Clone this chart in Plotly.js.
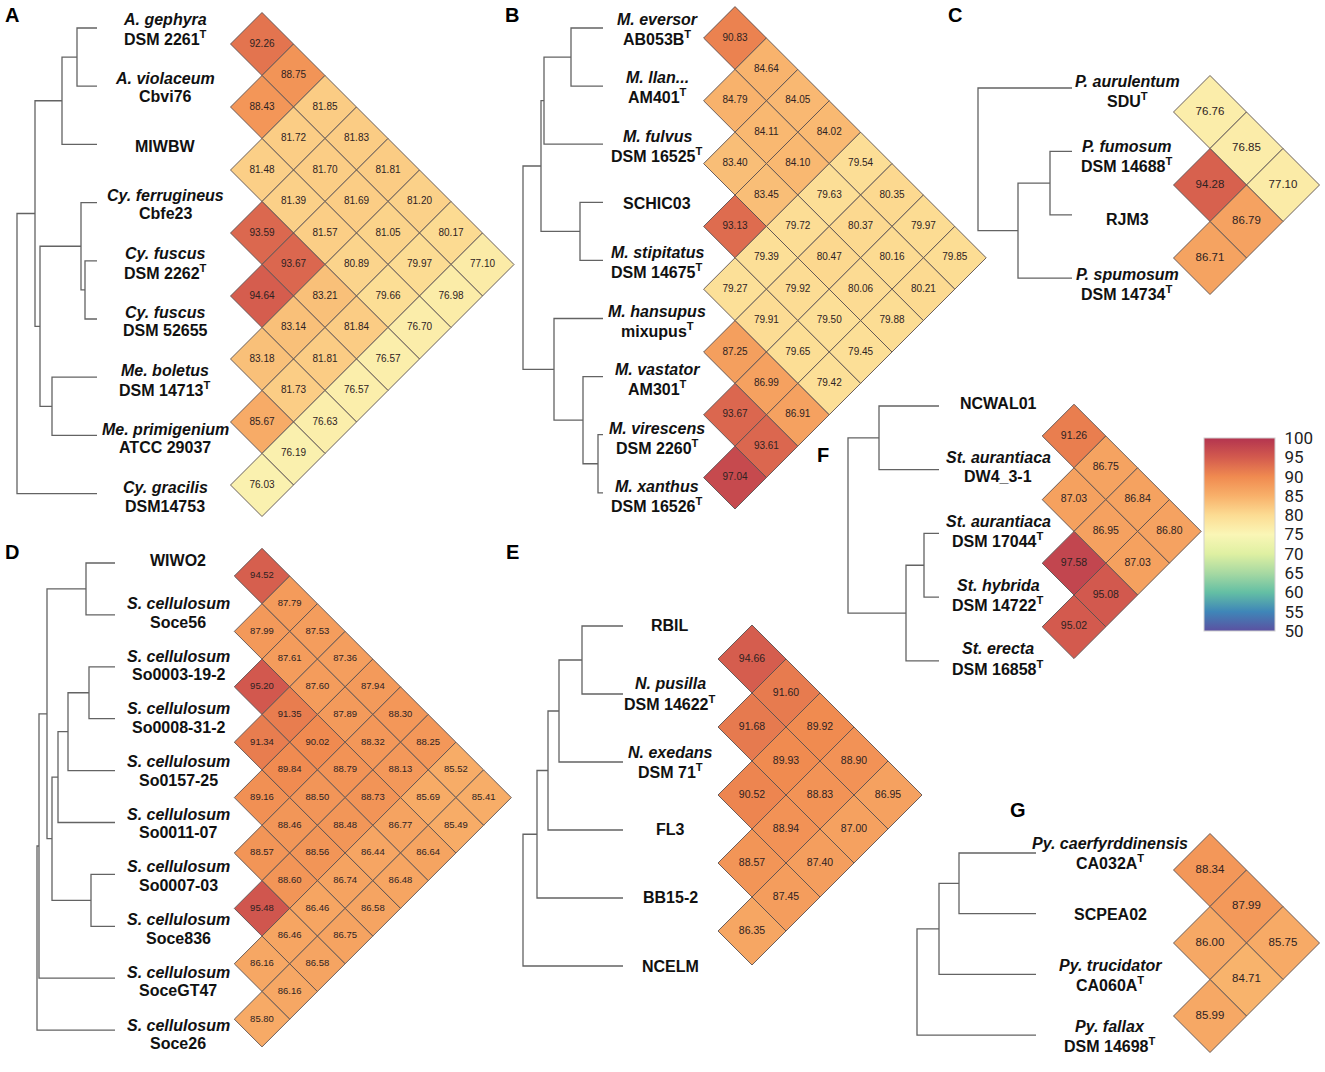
<!DOCTYPE html>
<html>
<head>
<meta charset="utf-8">
<script src="https://cdn.plot.ly/plotly-3.0.1.min.js"></script>
<style>html,body{margin:0;padding:0;background:#fff;}#chart{width:1325px;height:1072px;}</style>
</head>
<body>
<div id="chart"></div>
<script>
// ---------------- DATA ----------------
// Taxon labels (line 1, optional line 2)
const namesA = [["<i>A. gephyra</i>","DSM 2261<sup>T</sup>"],["<i>A. violaceum</i>","Cbvi76"],["MIWBW"],["<i>Cy. ferrugineus</i>","Cbfe23"],["<i>Cy. fuscus</i>","DSM 2262<sup>T</sup>"],["<i>Cy. fuscus</i>","DSM 52655"],["<i>Me. boletus</i>","DSM 14713<sup>T</sup>"],["<i>Me. primigenium</i>","ATCC 29037"],["<i>Cy. gracilis</i>","DSM14753"]];
const namesB = [["<i>M. eversor</i>","AB053B<sup>T</sup>"],["<i>M. llan...</i>","AM401<sup>T</sup>"],["<i>M. fulvus</i>","DSM 16525<sup>T</sup>"],["SCHIC03"],["<i>M. stipitatus</i>","DSM 14675<sup>T</sup>"],["<i>M. hansupus</i>","mixupus<sup>T</sup>"],["<i>M. vastator</i>","AM301<sup>T</sup>"],["<i>M. virescens</i>","DSM 2260<sup>T</sup>"],["<i>M. xanthus</i>","DSM 16526<sup>T</sup>"]];
const namesC = [["<i>P. aurulentum</i>","SDU<sup>T</sup>"],["<i>P. fumosum</i>","DSM 14688<sup>T</sup>"],["RJM3"],["<i>P. spumosum</i>","DSM 14734<sup>T</sup>"]];
const namesD = [["WIWO2"],["<i>S. cellulosum</i>","Soce56"],["<i>S. cellulosum</i>","So0003-19-2"],["<i>S. cellulosum</i>","So0008-31-2"],["<i>S. cellulosum</i>","So0157-25"],["<i>S. cellulosum</i>","So0011-07"],["<i>S. cellulosum</i>","So0007-03"],["<i>S. cellulosum</i>","Soce836"],["<i>S. cellulosum</i>","SoceGT47"],["<i>S. cellulosum</i>","Soce26"]];
const namesE = [["RBIL"],["<i>N. pusilla</i>","DSM 14622<sup>T</sup>"],["<i>N. exedans</i>","DSM 71<sup>T</sup>"],["FL3"],["BB15-2"],["NCELM"]];
const namesF = [["NCWAL01"],["<i>St. aurantiaca</i>","DW4_3-1"],["<i>St. aurantiaca</i>","DSM 17044<sup>T</sup>"],["<i>St. hybrida</i>","DSM 14722<sup>T</sup>"],["<i>St. erecta</i>","DSM 16858<sup>T</sup>"]];
const namesG = [["<i>Py. caerfyrddinensis</i>","CA032A<sup>T</sup>"],["SCPEA02"],["<i>Py. trucidator</i>","CA060A<sup>T</sup>"],["<i>Py. fallax</i>","DSM 14698<sup>T</sup>"]];

// Upper-triangle ANI values: row i lists pairs (i,i+1), (i,i+2), ...
const aniA = [[92.26,88.75,81.85,81.83,81.81,81.20,80.17,77.10],[88.43,81.72,81.70,81.69,81.05,79.97,76.98],[81.48,81.39,81.57,80.89,79.66,76.70],[93.59,93.67,83.21,81.84,76.57],[94.64,83.14,81.81,76.57],[83.18,81.73,76.63],[85.67,76.19],[76.03]];
const aniB = [[90.83,84.64,84.05,84.02,79.54,80.35,79.97,79.85],[84.79,84.11,84.10,79.63,80.37,80.16,80.21],[83.40,83.45,79.72,80.47,80.06,79.88],[93.13,79.39,79.92,79.50,79.45],[79.27,79.91,79.65,79.42],[87.25,86.99,86.91],[93.67,93.61],[97.04]];
const aniC = [[76.76,76.85,77.10],[94.28,86.79],[86.71]];
const aniD = [[94.52,87.79,87.53,87.36,87.94,88.30,88.25,85.52,85.41],[87.99,87.61,87.60,87.89,88.32,88.13,85.69,85.49],[95.20,91.35,90.02,88.79,88.73,86.77,86.64],[91.34,89.84,88.50,88.48,86.44,86.48],[89.16,88.46,88.56,86.74,86.58],[88.57,88.60,86.46,86.75],[95.48,86.46,86.58],[86.16,86.16],[85.80]];
const aniE = [[94.66,91.60,89.92,88.90,86.95],[91.68,89.93,88.83,87.00],[90.52,88.94,87.40],[88.57,87.45],[86.35]];
const aniF = [[91.26,86.75,86.84,86.80],[87.03,86.95,87.03],[97.58,95.08],[95.02]];
const aniG = [[88.34,87.99,85.75],[86.00,84.71],[85.99]];

// Dendrogram linkage: [childA, childB, height]; ids >= n are earlier merges
const treeA = [[0,1,20],[9,2,35],[4,5,12],[3,11,16],[6,7,45],[12,13,57],[10,14,62],[15,8,80]];
const treeB = [[0,1,32],[9,2,59],[3,4,23],[10,11,62],[7,8,5],[6,13,20],[5,14,49],[12,15,80]];
const treeC = [[1,2,22],[4,3,54],[0,5,94]];
const treeD = [[0,1,29],[2,3,26],[11,4,47],[12,5,57],[6,7,24],[13,14,63],[10,15,68],[16,8,76],[17,9,78]];
const treeE = [[0,1,41],[6,2,64],[7,3,75],[8,4,86],[9,5,100]];
const treeF = [[0,1,60],[2,3,15],[6,4,33],[5,7,91]];
const treeG = [[0,1,77],[4,2,97],[5,3,119]];

const colorTicks = [50,55,60,65,70,75,80,85,90,95,100];

// ---------------- LAYOUT / STYLE ----------------
const spectral = [[0,'#5b51a1'],[0.1,'#3f86b8'],[0.2,'#64bfa4'],[0.3,'#a7d9a2'],[0.4,'#dff0a2'],[0.5,'#faf6b6'],[0.6,'#fcdc93'],[0.7,'#f8b06a'],[0.8,'#f08a50'],[0.9,'#d35a4e'],[1,'#b3344f']];

const panels = [
 {id:'A', names:namesA, ani:aniA, tree:treeA, tipX:97,  leafY0:28,  leafStep:58.2, labelX:165, labelY0:29,  labelStep:58.5, hx:262,  hy:44,  h:31.5, fs:10,   lx:12,  ly:15},
 {id:'B', names:namesB, ani:aniB, tree:treeB, tipX:603, leafY0:28,  leafStep:58.1, labelX:657, labelY0:28.5,labelStep:58.4, hx:735,  hy:38,  h:31.4, fs:10,   lx:512, ly:15},
 {id:'C', names:namesC, ani:aniC, tree:treeC, tipX:1072,leafY0:88,  leafStep:63.4, labelX:1127,labelY0:91,  labelStep:64.3, hx:1210, hy:112, h:36.5, fs:11.5, lx:955, ly:15},
 {id:'D', names:namesD, ani:aniD, tree:treeD, tipX:115, leafY0:563, leafStep:51.9, labelX:178, labelY0:560, labelStep:52.7, hx:262,  hy:576, h:27.7, fs:9.5,  lx:12,  ly:552},
 {id:'E', names:namesE, ani:aniE, tree:treeE, tipX:623, leafY0:626, leafStep:68,   labelX:670, labelY0:625, labelStep:68.2, hx:752,  hy:659, h:34,   fs:10.5, lx:512, ly:552},
 {id:'F', names:namesF, ani:aniF, tree:treeF, tipX:939, leafY0:406, leafStep:63.7, labelX:998, labelY0:403, labelStep:63.8, hx:1074, hy:436, h:31.8, fs:10.5, lx:823, ly:455},
 {id:'G', names:namesG, ani:aniG, tree:treeG, tipX:1036,leafY0:853, leafStep:60.7, labelX:1110,labelY0:853, labelStep:61,   hx:1210, hy:870, h:36.5, fs:11.5, lx:1018,ly:810}
];

const traces = [];
const annotations = [];
const labelFont = {family:'Liberation Sans, Arial, sans-serif', size:16, color:'#111'};

panels.forEach((p, pi) => {
  const n = p.names.length;
  // dendrogram
  const nodes = [];
  for (let i = 0; i < n; i++) nodes.push({x:p.tipX, y:p.leafY0 + i*p.leafStep});
  const lx = [], ly = [];
  p.tree.forEach(m => {
    const a = nodes[m[0]], b = nodes[m[1]];
    const x = p.tipX - m[2];
    lx.push(a.x, x, x, b.x, null);
    ly.push(a.y, a.y, b.y, b.y, null);
    nodes.push({x:x, y:(a.y + b.y)/2});
  });
  traces.push({type:'scatter', mode:'lines', x:lx, y:ly, line:{color:'#636363', width:1.3}, hoverinfo:'skip'});

  // heatmap diamonds
  const cx = [], cy = [], cv = [], ct = [];
  p.ani.forEach((row, i) => {
    row.forEach((v, k) => {
      const j = i + 1 + k;
      cx.push(p.hx + (j - i - 1)*p.h);
      cy.push(p.hy + (i + j - 1)*p.h);
      cv.push(v);
      ct.push(v.toFixed(2));
    });
  });
  const tr = {type:'scatter', mode:'markers+text', x:cx, y:cy, text:ct, textposition:'middle center',
    textfont:{family:'Liberation Sans, Arial, sans-serif', size:p.fs, color:'#2e2222'},
    marker:{symbol:'diamond', size:p.h/0.65, color:cv, colorscale:spectral, cmin:50, cmax:100,
            line:{color:'#5a5050', width:0.9}, showscale:false},
    hoverinfo:'skip'};
  if (pi === 0) {
    tr.marker.showscale = true;
    tr.marker.colorbar = {x:1204/1325, xanchor:'left', xpad:0, y:1-438/1072, yanchor:'top', ypad:0,
      len:193, lenmode:'pixels', thickness:71, thicknessmode:'pixels',
      outlinewidth:1, outlinecolor:'#d0d0d0', tickvals:colorTicks, ticktext:colorTicks.map(String),
      ticks:'outside', ticklen:6, tickcolor:'rgba(0,0,0,0)',
      tickfont:{family:'Roboto, Liberation Sans, sans-serif', size:17, color:'#222'}};
  }
  traces.push(tr);

  // labels
  p.names.forEach((nm, i) => {
    const yc = p.labelY0 + i*p.labelStep;
    if (nm.length === 1) {
      annotations.push({x:p.labelX, y:yc, xref:'x', yref:'y', text:'<b>'+nm[0]+'</b>', showarrow:false, font:labelFont, xanchor:'center', yanchor:'middle'});
    } else {
      annotations.push({x:p.labelX, y:yc-9.3, xref:'x', yref:'y', text:'<b>'+nm[0]+'</b>', showarrow:false, font:labelFont, xanchor:'center', yanchor:'middle'});
      annotations.push({x:p.labelX, y:yc+9.3, xref:'x', yref:'y', text:'<b>'+nm[1]+'</b>', showarrow:false, font:labelFont, xanchor:'center', yanchor:'middle'});
    }
  });
  // panel letter
  annotations.push({x:p.lx, y:p.ly, xref:'x', yref:'y', text:'<b>'+p.id+'</b>', showarrow:false,
    font:{family:'Liberation Sans, Arial, sans-serif', size:20, color:'#000'}, xanchor:'center', yanchor:'middle'});
});

const layout = {
  width:1325, height:1072, margin:{l:0,r:0,t:0,b:0},
  paper_bgcolor:'#fff', plot_bgcolor:'#fff', showlegend:false,
  xaxis:{range:[0,1325], visible:false, fixedrange:true},
  yaxis:{range:[1072,0], visible:false, fixedrange:true},
  annotations:annotations
};
Plotly.newPlot('chart', traces, layout, {staticPlot:true, displayModeBar:false});
</script>
</body>
</html>
